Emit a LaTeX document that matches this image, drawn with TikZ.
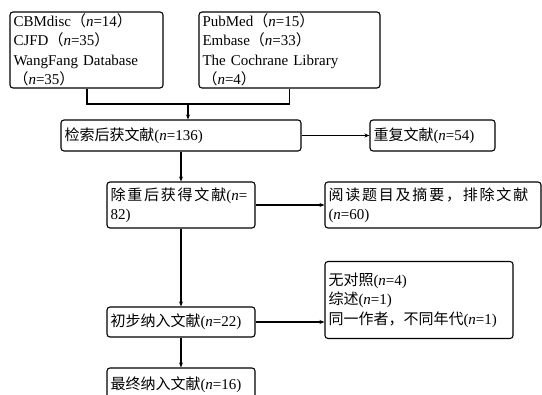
\documentclass[tikz,border=0pt]{standalone}
\usepackage{fontspec}
\setmainfont{Liberation Serif}
\newfontfamily\cjk{Noto Sans CJK SC}
\newfontfamily\cjkw[LetterSpace=12]{Noto Sans CJK SC}
\usetikzlibrary{arrows.meta}
\tikzstyle{src} = [rectangle, rounded corners=3pt, draw=black, line width=1.1pt, align=left, text width=#1, inner xsep=3.5pt, inner ysep=1pt, anchor=center, font=\fontsize{15}{19.5}\selectfont]
\tikzstyle{step0} = [src=#1, minimum height=31pt]
\tikzstyle{arrow} = [line width=1.1pt, -{Stealth[length=5pt,width=4pt]}]
\tikzstyle{link} = [line width=1.1pt]
\newcommand{\nn}[1]{(\textit{n}=#1)}
\newcommand{\fn}[1]{{\cjk （}\textit{n}=#1{\cjk ）}}

\begin{document}
\begin{tikzpicture}[x=1pt,y=-1pt]
\useasboundingbox (0,0) rectangle (542,395);
\node (cbm) [src=146pt, minimum width=153pt, minimum height=76pt] at (86.5,50) {CBMdisc\fn{14}\\CJFD\fn{35}\\WangFang Database\\\fn{35}};
\node (pub) [src=174pt, minimum width=181pt, minimum height=76pt] at (289.5,50) {PubMed\fn{15}\\Embase\fn{33}\\The Cochrane Library\\\fn{4}};

\node (ret) [step0=233pt, minimum width=240pt] at (181,135.5) {{\cjk 检索后获文献}\nn{136}};
\node (dup) [step0=118pt, minimum width=125pt] at (432.5,135.5) {{\cjk 重复文献}\nn{54}};
\node (dedup) [src=141pt, minimum width=148pt, minimum height=46pt] at (181,205) {{\cjkw 除重后获得文献}(\textit{n}=\\82)};
\node (excl) [src=209pt, minimum width=216pt, minimum height=46pt] at (433,205) {{\cjkw 阅读题目及摘要，排除文献}\\\nn{60}};
\node (first) [step0=141pt, minimum width=148pt, minimum height=30pt] at (181,322) {{\cjk 初步纳入文献}\nn{22}};
\node (rsn) [src=181pt, minimum width=188pt, minimum height=77pt] at (419,300) {{\cjk 无对照}\nn{4}\\{\cjk 综述}\nn{1}\\{\cjk 同一作者，不同年代}\nn{1}};
\node (final) [step0=141pt, minimum width=148pt, minimum height=34pt] at (181,385) {{\cjk 最终纳入文献}\nn{16}};

\coordinate (jn) at (188,104);
\draw [link] (cbm.south) ++(0.5,0) |- (jn) -| (pub.south);
\draw [arrow] (jn) -- (jn |- ret.north);
\draw [arrow] (ret) -- (dup);
\draw [arrow] (ret) -- (dedup);
\draw [arrow] (dedup) -- (excl);
\draw [arrow] (dedup) -- (first);
\draw [arrow] (first) -- (first -| rsn.west);
\draw [arrow] (first) -- (final);

\end{tikzpicture}
\end{document}
